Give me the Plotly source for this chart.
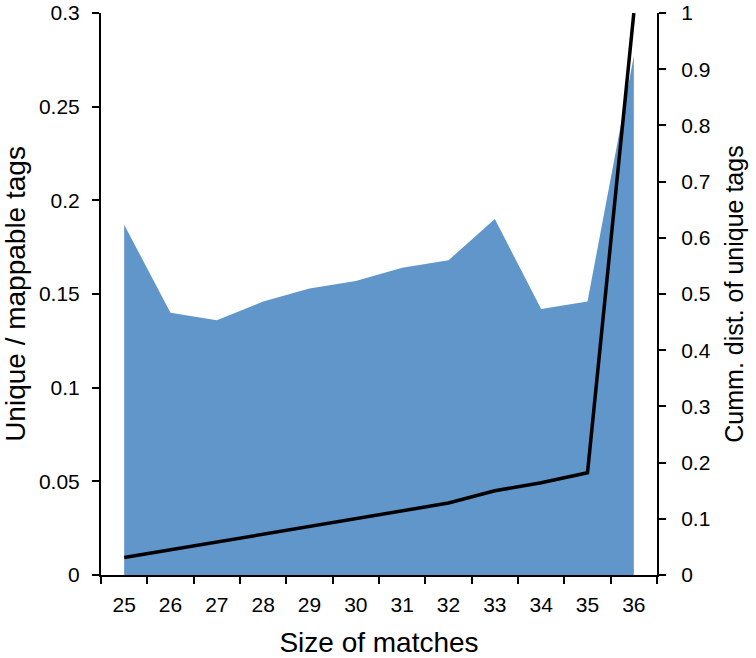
import plotly.graph_objects as go

sizes = ["25", "26", "27", "28", "29", "30", "31", "32", "33", "34", "35", "36"]
unique_ratio = [0.187, 0.140, 0.136, 0.146, 0.153, 0.157, 0.164, 0.168, 0.190, 0.142, 0.146, 0.277]
cumm_dist = [0.031, 0.045, 0.059, 0.073, 0.087, 0.100, 0.114, 0.128, 0.150, 0.164, 0.182, 1.0]

left_ticks = [0, 0.05, 0.1, 0.15, 0.2, 0.25, 0.3]
right_ticks = [0, 0.1, 0.2, 0.3, 0.4, 0.5, 0.6, 0.7, 0.8, 0.9, 1]

fig = go.Figure()
fig.add_trace(go.Scatter(x=sizes, y=unique_ratio, mode="lines", fill="tozeroy",
                         fillcolor="#6096CA", line=dict(width=0, color="#6096CA"),
                         yaxis="y", showlegend=False, hoverinfo="skip"))
fig.add_trace(go.Scatter(x=sizes, y=cumm_dist, mode="lines",
                         line=dict(width=3.5, color="black"),
                         yaxis="y2", showlegend=False, hoverinfo="skip"))

font = dict(family="Liberation Sans, Arial, sans-serif", color="black")
axis_common = dict(showline=True, linecolor="black", linewidth=2,
                   ticks="outside", ticklen=7, tickwidth=2, tickcolor="black",
                   showgrid=False, zeroline=False, tickfont=dict(size=21),
                   ticklabeloverflow="allow", automargin=False)

fig.update_layout(
    width=756, height=658,
    margin=dict(l=101, r=99, t=13, b=83),
    plot_bgcolor="white", paper_bgcolor="white",
    font=font,
    xaxis=dict(
        type="category", range=[-0.5, 11.5], tickson="boundaries",
        ticklabelstandoff=10,
        title=dict(text="Size of matches", font=dict(size=28), standoff=24),
        **axis_common,
    ),
    yaxis=dict(
        range=[0, 0.3], tickvals=left_ticks,
        ticktext=[f"{v:g}" for v in left_ticks],
        ticklabelstandoff=8,
        title=dict(text="Unique / mappable tags", font=dict(size=28), standoff=20),
        **axis_common,
    ),
    yaxis2=dict(
        range=[0, 1], tickvals=right_ticks,
        ticktext=[f"{v:g}" for v in right_ticks],
        overlaying="y", side="right",
        ticklabelstandoff=11,
        title=dict(text="Cumm. dist. of unique tags", font=dict(size=25), standoff=16),
        **axis_common,
    ),
)

fig.write_html("out.html", config={"displayModeBar": False},
               post_script="document.body.style.margin='0';")
